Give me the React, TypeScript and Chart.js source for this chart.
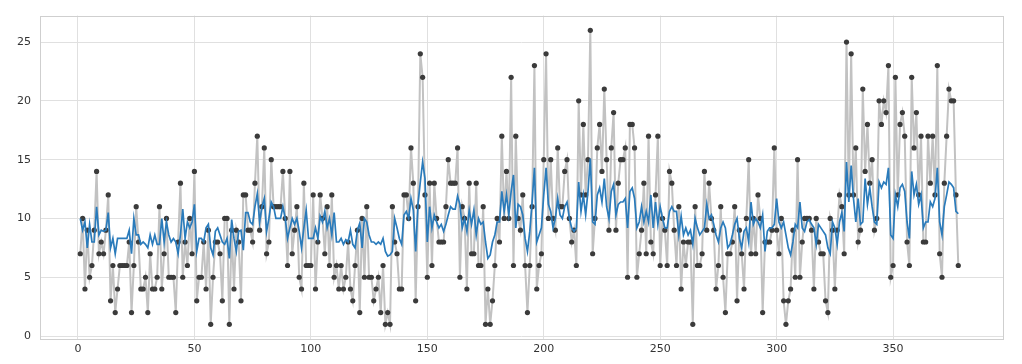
import React, { useEffect, useRef } from "react";
import { Chart, registerables } from "chart.js";

Chart.register(...registerables);

const observed: number[] = [
  7,10,4,9,5,6,9,14,7,8,7,9,12,3,6,2,4,6,6,6,6,8,2,6,11,8,4,4,5,2,
  7,4,4,5,11,4,7,10,5,5,5,2,8,13,5,8,6,10,7,14,3,5,5,8,4,9,1,5,8,8,
  7,3,10,10,1,9,4,9,8,3,12,12,9,9,8,13,17,9,11,16,7,8,15,11,11,11,11,14,10,6,
  14,7,9,11,5,4,13,6,6,6,12,4,8,12,10,7,11,6,12,5,6,4,6,4,5,8,4,3,6,9,
  2,10,5,11,5,5,3,4,5,2,6,1,2,1,11,8,7,4,4,12,12,10,16,13,3,11,24,22,12,5,
  13,6,13,10,8,8,8,11,15,13,13,13,16,5,11,10,4,13,7,7,13,6,6,11,1,4,1,3,6,10,
  8,17,10,14,10,22,6,17,10,9,12,6,2,6,11,23,4,6,7,15,24,10,15,10,9,16,11,11,14,15,
  10,8,9,6,20,12,18,12,15,26,7,10,16,18,14,21,15,9,16,19,9,13,15,15,16,5,18,18,16,5,
  7,9,13,7,17,8,7,12,17,6,10,9,6,14,13,9,6,11,4,8,6,8,8,1,11,6,6,7,14,9,
  13,10,9,4,6,11,5,2,7,7,8,11,3,9,7,4,10,15,7,10,7,12,10,2,8,8,8,9,16,9,
  7,10,3,1,3,4,9,5,15,5,8,10,10,10,9,4,10,8,7,7,3,2,10,9,4,9,12,11,7,25,
  12,24,12,16,8,9,21,14,18,13,15,9,10,20,18,20,19,23,5,6,22,12,18,19,17,8,6,22,16,19,
  12,17,8,8,17,13,17,12,23,7,5,13,17,21,20,20,12,6,
];

const fitted: number[] = [
  10,9,9.7,7.5,9.5,8,8,11,8.6,9,8.9,9,10.5,7.5,8.3,7,8.3,8.3,8.3,8.3,8.3,9,7,10,8.6,8.6,7.8,8,7.8,7.5,
  8.6,7.8,8.6,7.8,7.8,10,8,9.7,8.6,8,8.3,8,7,8.6,10.8,8.3,9.7,9.2,9.7,11.2,7.2,8.3,8.3,8,9.2,9.5,7.5,6.9,8.9,9.2,8.6,8,7.8,
  8.3,6.6,9.9,8.3,7.2,8.9,9,7.3,10.5,10.5,9.7,9.5,11,12.1,9.7,11,11.7,8.9,10,11.4,11,10,10,10,11,10,8.3,9.2,10,9.5,10,8.9,
  7.5,9.2,10.7,8.3,8.3,8.3,9.2,8.3,10.2,9.7,10.6,9.2,10,8.6,10.5,8,8,8.3,7.8,8.2,8,9,7.8,7.5,9,9.6,7.5,10,9.7,8.6,8,8,
  7.8,8,7.8,8.3,7.2,6.8,6.9,7.2,10,9.2,8.3,7.8,10.3,10.6,10,11.7,10.7,7.2,11.2,13.1,14.8,13.4,8,11,9.2,10.3,9.7,9.2,9.5,8.9,9.5,10.3,
  11,10.8,10.8,11.9,11.2,9.2,10,8.9,10.7,9.5,10.7,8.6,10,9.5,9.7,8,6.6,6.9,8,8.6,9.7,9.7,12.3,10.6,12,10.3,12.3,13.7,9.2,11.2,11,10.3,
  8.3,7.2,8.9,11.4,14.3,8,8.6,9.2,12,14.3,11.2,10.6,9.2,10,11.7,10.3,10,11,11.4,10,9.2,8.9,9.2,13.1,10.6,12,10.3,12.3,15.1,9.7,9.5,12,
  12.6,11.4,13.4,11,10,12.3,12.9,10.3,11.2,11.4,11.4,11.7,9.2,12.3,12.6,11.7,9.2,9.7,11,9.7,10.6,9.7,12,9.2,11.4,9.5,11,10,9.2,9.2,10.6,11,10.6,
  10.6,8.6,10.2,8.6,9.2,8.6,9,7.8,10,9.2,8.6,8.9,9.2,11.2,10,10.3,9.5,8.6,8,9.2,9.7,9.2,7.5,7.8,8.6,9.5,10,8.3,7.5,8.9,9.2,8,
  11.4,9.5,10,9.7,9.2,10.3,7.2,8.9,9.2,9.2,9.5,11.7,9.7,9.2,9.7,8.6,7.5,6.9,8,9.5,9.2,11.4,9.2,8.9,9.7,9.9,9.5,9.2,7.8,9.5,9.2,8.9,
  8.6,7.5,7,9.7,9.2,7.8,9.7,10.5,8.9,14.8,11.4,14.5,11.7,9.7,11.7,9.5,9.7,13.4,11.2,12.6,11,9.7,9.5,13.1,12.6,13.1,12.9,14.3,8.6,8.3,12,11,
  12.6,12.9,12.3,9.7,8.3,14,12,12.9,11.2,12,9.2,9.7,9.7,11.4,11,11.7,14.3,9.7,8.6,11,12,13.1,12.9,12.6,10.6,10.4,
];

const xTicks: number[] = [0, 50, 100, 150, 200, 250, 300, 350];
const yTicks: number[] = [0, 5, 10, 15, 20, 25];
const xRange: number[] = [-16.3, 397.2];
const yRange: number[] = [-0.25, 27.25];

const framePlugin = {
  id: "frame",
  afterDraw(chart: any) {
    const { ctx, chartArea } = chart;
    ctx.save();
    ctx.strokeStyle = "#cfcfcf";
    ctx.lineWidth = 1;
    ctx.strokeRect(
      Math.round(chartArea.left) + 0.5,
      Math.round(chartArea.top) + 0.5,
      Math.round(chartArea.right - chartArea.left),
      Math.round(chartArea.bottom - chartArea.top)
    );
    ctx.restore();
  },
};

export default function App() {
  const ref = useRef<HTMLCanvasElement | null>(null);

  useEffect(() => {
    document.body.style.margin = "0";
    const canvas = ref.current;
    if (!canvas) return;
    const obsPts = observed.map((v, i) => ({ x: i + 1, y: v }));
    const fitPts = fitted.map((v, i) => ({ x: i + 1, y: v }));

    const chart = new Chart(canvas, {
      type: "line",
      data: {
        datasets: [
          {
            data: fitPts,
            borderColor: "#2a7bbb",
            borderWidth: 1.7,
            pointRadius: 0,
            tension: 0,
            order: 0,
          },
          {
            data: obsPts,
            borderColor: "#c2c2c2",
            borderWidth: 2,
            pointRadius: 2.6,
            pointBackgroundColor: "#3b3b3b",
            pointBorderWidth: 0,
            tension: 0,
            order: 1,
          },
        ],
      },
      options: {
        responsive: false,
        animation: false,
        layout: { padding: { top: 14, right: 19, left: 0, bottom: 0 } },
        plugins: { legend: { display: false }, tooltip: { enabled: false } },
        scales: {
          x: {
            type: "linear",
            min: xRange[0],
            max: xRange[1],
            afterBuildTicks: (s: any) => {
              s.ticks = xTicks.map((v) => ({ value: v }));
            },
            afterFit: (s: any) => {
              s.height = 25;
            },
            grid: { color: "#e0e0e0", lineWidth: 1, drawTicks: false },
            border: { display: false },
            ticks: {
              padding: 4,
              color: "#333",
              font: { family: "DejaVu Sans", size: 11 },
              maxRotation: 0,
            },
          },
          y: {
            type: "linear",
            min: yRange[0],
            max: yRange[1],
            afterBuildTicks: (s: any) => {
              s.ticks = yTicks.map((v) => ({ value: v }));
            },
            afterFit: (s: any) => {
              s.width = 40;
            },
            grid: { color: "#e0e0e0", lineWidth: 1, drawTicks: false },
            border: { display: false },
            ticks: {
              padding: 9,
              color: "#333",
              font: { family: "DejaVu Sans", size: 11 },
            },
          },
        },
      },
      plugins: [framePlugin],
    });
    return () => chart.destroy();
  }, []);

  return (
    <div style={{ width: 1022, height: 364 }}>
      <canvas ref={ref} width={1022} height={364} style={{ display: "block" }} />
    </div>
  );
}
